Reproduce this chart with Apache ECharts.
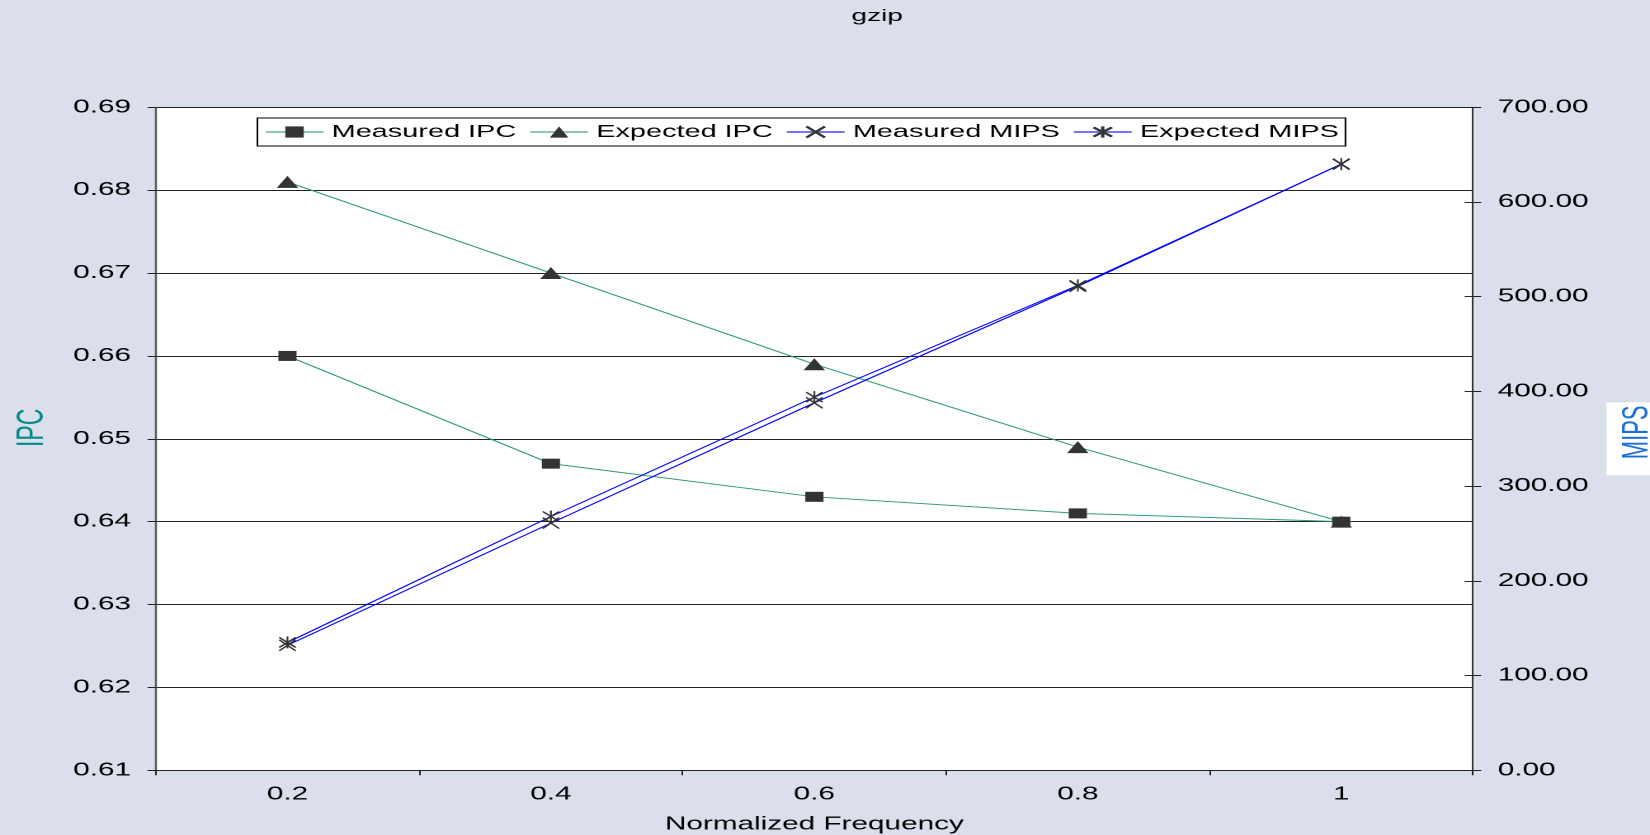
<!DOCTYPE html>
<html>
<head>
<meta charset="utf-8">
<title>gzip</title>
<script src="https://cdn.jsdelivr.net/npm/echarts@6/dist/echarts.min.js"></script>
<style>
  html, body { margin: 0; padding: 0; background: #dbdfeb; overflow: hidden; }
  /* The chart is laid out on a 1000px-wide stage and widened to 1650px,
     which gives the broad lettering and flattened markers of this plot style. */
  #chart {
    width: 1000px;
    height: 835px;
    transform: scaleX(1.65);
    transform-origin: 0 0;
  }
</style>
</head>
<body>
<div id="chart"></div>
<script>
// Normalized frequency steps (x-axis categories)
const freqLabels = ['0.2', '0.4', '0.6', '0.8', '1'];

// Instructions per cycle (left axis)
const measuredIpc = [0.660, 0.647, 0.643, 0.641, 0.640];
const expectedIpc = [0.681, 0.670, 0.659, 0.649, 0.640];

// Millions of instructions per second (right axis)
const measuredMips = [132, 261, 388, 511, 640];
const expectedMips = [135, 268, 394, 512, 640];

// Axis ranges
const ipcMin = 0.61, ipcMax = 0.69, ipcStep = 0.01;
const mipsMin = 0, mipsMax = 700, mipsStep = 100;

const FONT = "'Liberation Sans', Arial, sans-serif";
const GREEN = '#2e9d6b';
const BLUE = '#0000ff';
const MARK = '#333333';

const crossMark = 'path://M0,0L10,10M0,10L10,0';
const starMark = 'path://M0,0L10,10M0,10L10,0M5,-1L5,11';

const chart = echarts.init(document.getElementById('chart'), null, {
  renderer: 'canvas',
  devicePixelRatio: 2
});

chart.setOption({
  animation: false,
  backgroundColor: '#dbdfeb',
  title: {
    text: 'gzip',
    left: 516,
    top: 8,
    padding: 0,
    textStyle: { fontFamily: FONT, fontSize: 17, fontWeight: 'normal', color: '#000' }
  },
  legend: {
    data: ['Measured IPC', 'Expected IPC', 'Measured MIPS', 'Expected MIPS'],
    left: 156,
    top: 118,
    padding: [5, 4, 5, 4],
    itemWidth: 35,
    itemHeight: 14,
    itemGap: 7.5,
    backgroundColor: '#ffffff',
    borderColor: '#000000',
    borderWidth: 1,
    lineStyle: { width: 2, opacity: 0.55 },
    textStyle: { fontFamily: FONT, fontSize: 17.5, color: '#000' }
  },
  grid: {
    left: 94.4,
    right: 107.3,
    top: 107.3,
    bottom: 64.7,
    outerBoundsMode: 'none',
    containLabel: false,
    show: true,
    backgroundColor: '#ffffff',
    borderWidth: 0
  },
  xAxis: {
    type: 'category',
    data: freqLabels,
    boundaryGap: true,
    name: 'Normalized Frequency',
    nameLocation: 'middle',
    nameGap: 45,
    nameTextStyle: { fontFamily: FONT, fontSize: 18, color: '#000' },
    axisLine: { lineStyle: { color: '#222', width: 1 } },
    axisTick: { show: true, length: 5, lineStyle: { color: '#222' } },
    axisLabel: { fontFamily: FONT, fontSize: 18, color: '#000', margin: 15 },
    splitLine: { show: false }
  },
  yAxis: [
    {
      type: 'value',
      position: 'left',
      min: ipcMin,
      max: ipcMax,
      interval: ipcStep,
      name: 'IPC',
      nameLocation: 'middle',
      nameGap: 63,
      nameTextStyle: {
        fontFamily: FONT, fontSize: 23, color: '#008b8b',
        padding: [0, 0, 0, 22]
      },
      axisLine: { show: true, lineStyle: { color: '#555', width: 1.2 } },
      axisTick: { show: true, length: 5, lineStyle: { color: '#222' } },
      axisLabel: {
        fontFamily: FONT, fontSize: 18, color: '#000', margin: 15,
        formatter: v => v.toFixed(2)
      },
      splitLine: { show: true, lineStyle: { color: '#222', width: 1 } }
    },
    {
      type: 'value',
      position: 'right',
      min: mipsMin,
      max: mipsMax,
      interval: mipsStep,
      name: 'MIPS',
      nameLocation: 'middle',
      nameGap: 76,
      nameTextStyle: {
        fontFamily: FONT, fontSize: 22, color: '#1a6fd8',
        backgroundColor: '#ffffff',
        padding: [8, 3, 5, 16]
      },
      axisLine: { show: true, lineStyle: { color: '#333', width: 1 } },
      axisTick: { show: true, length: 5, lineStyle: { color: '#222' } },
      axisLabel: {
        fontFamily: FONT, fontSize: 18, color: '#000', margin: 15,
        formatter: v => v.toFixed(2)
      },
      splitLine: { show: false }
    },
    {
      // inner half of the right-hand tick marks
      type: 'value',
      position: 'right',
      min: mipsMin,
      max: mipsMax,
      interval: mipsStep,
      axisLine: { show: false },
      axisTick: { show: true, inside: true, length: 5, lineStyle: { color: '#222' } },
      axisLabel: { show: false },
      splitLine: { show: false }
    }
  ],
  series: [
    {
      name: 'Measured IPC',
      type: 'line',
      yAxisIndex: 0,
      data: measuredIpc,
      symbol: 'rect',
      symbolSize: [11, 10],
      lineStyle: { color: GREEN, width: 1 },
      itemStyle: { color: MARK, borderColor: MARK, borderWidth: 0 },
      z: 3
    },
    {
      name: 'Expected IPC',
      type: 'line',
      yAxisIndex: 0,
      data: expectedIpc,
      symbol: 'triangle',
      symbolSize: [13, 12],
      lineStyle: { color: GREEN, width: 1 },
      itemStyle: { color: MARK, borderColor: MARK, borderWidth: 0 },
      z: 3
    },
    {
      name: 'Measured MIPS',
      type: 'line',
      yAxisIndex: 1,
      data: measuredMips,
      symbol: crossMark,
      symbolSize: [10, 11],
      lineStyle: { color: BLUE, width: 1 },
      itemStyle: { color: MARK, borderColor: MARK, borderWidth: 1.2 },
      z: 4
    },
    {
      name: 'Expected MIPS',
      type: 'line',
      yAxisIndex: 1,
      data: expectedMips,
      symbol: starMark,
      symbolSize: [10, 12],
      lineStyle: { color: BLUE, width: 1 },
      itemStyle: { color: MARK, borderColor: MARK, borderWidth: 1.2 },
      z: 4
    }
  ]
});
</script>
</body>
</html>
